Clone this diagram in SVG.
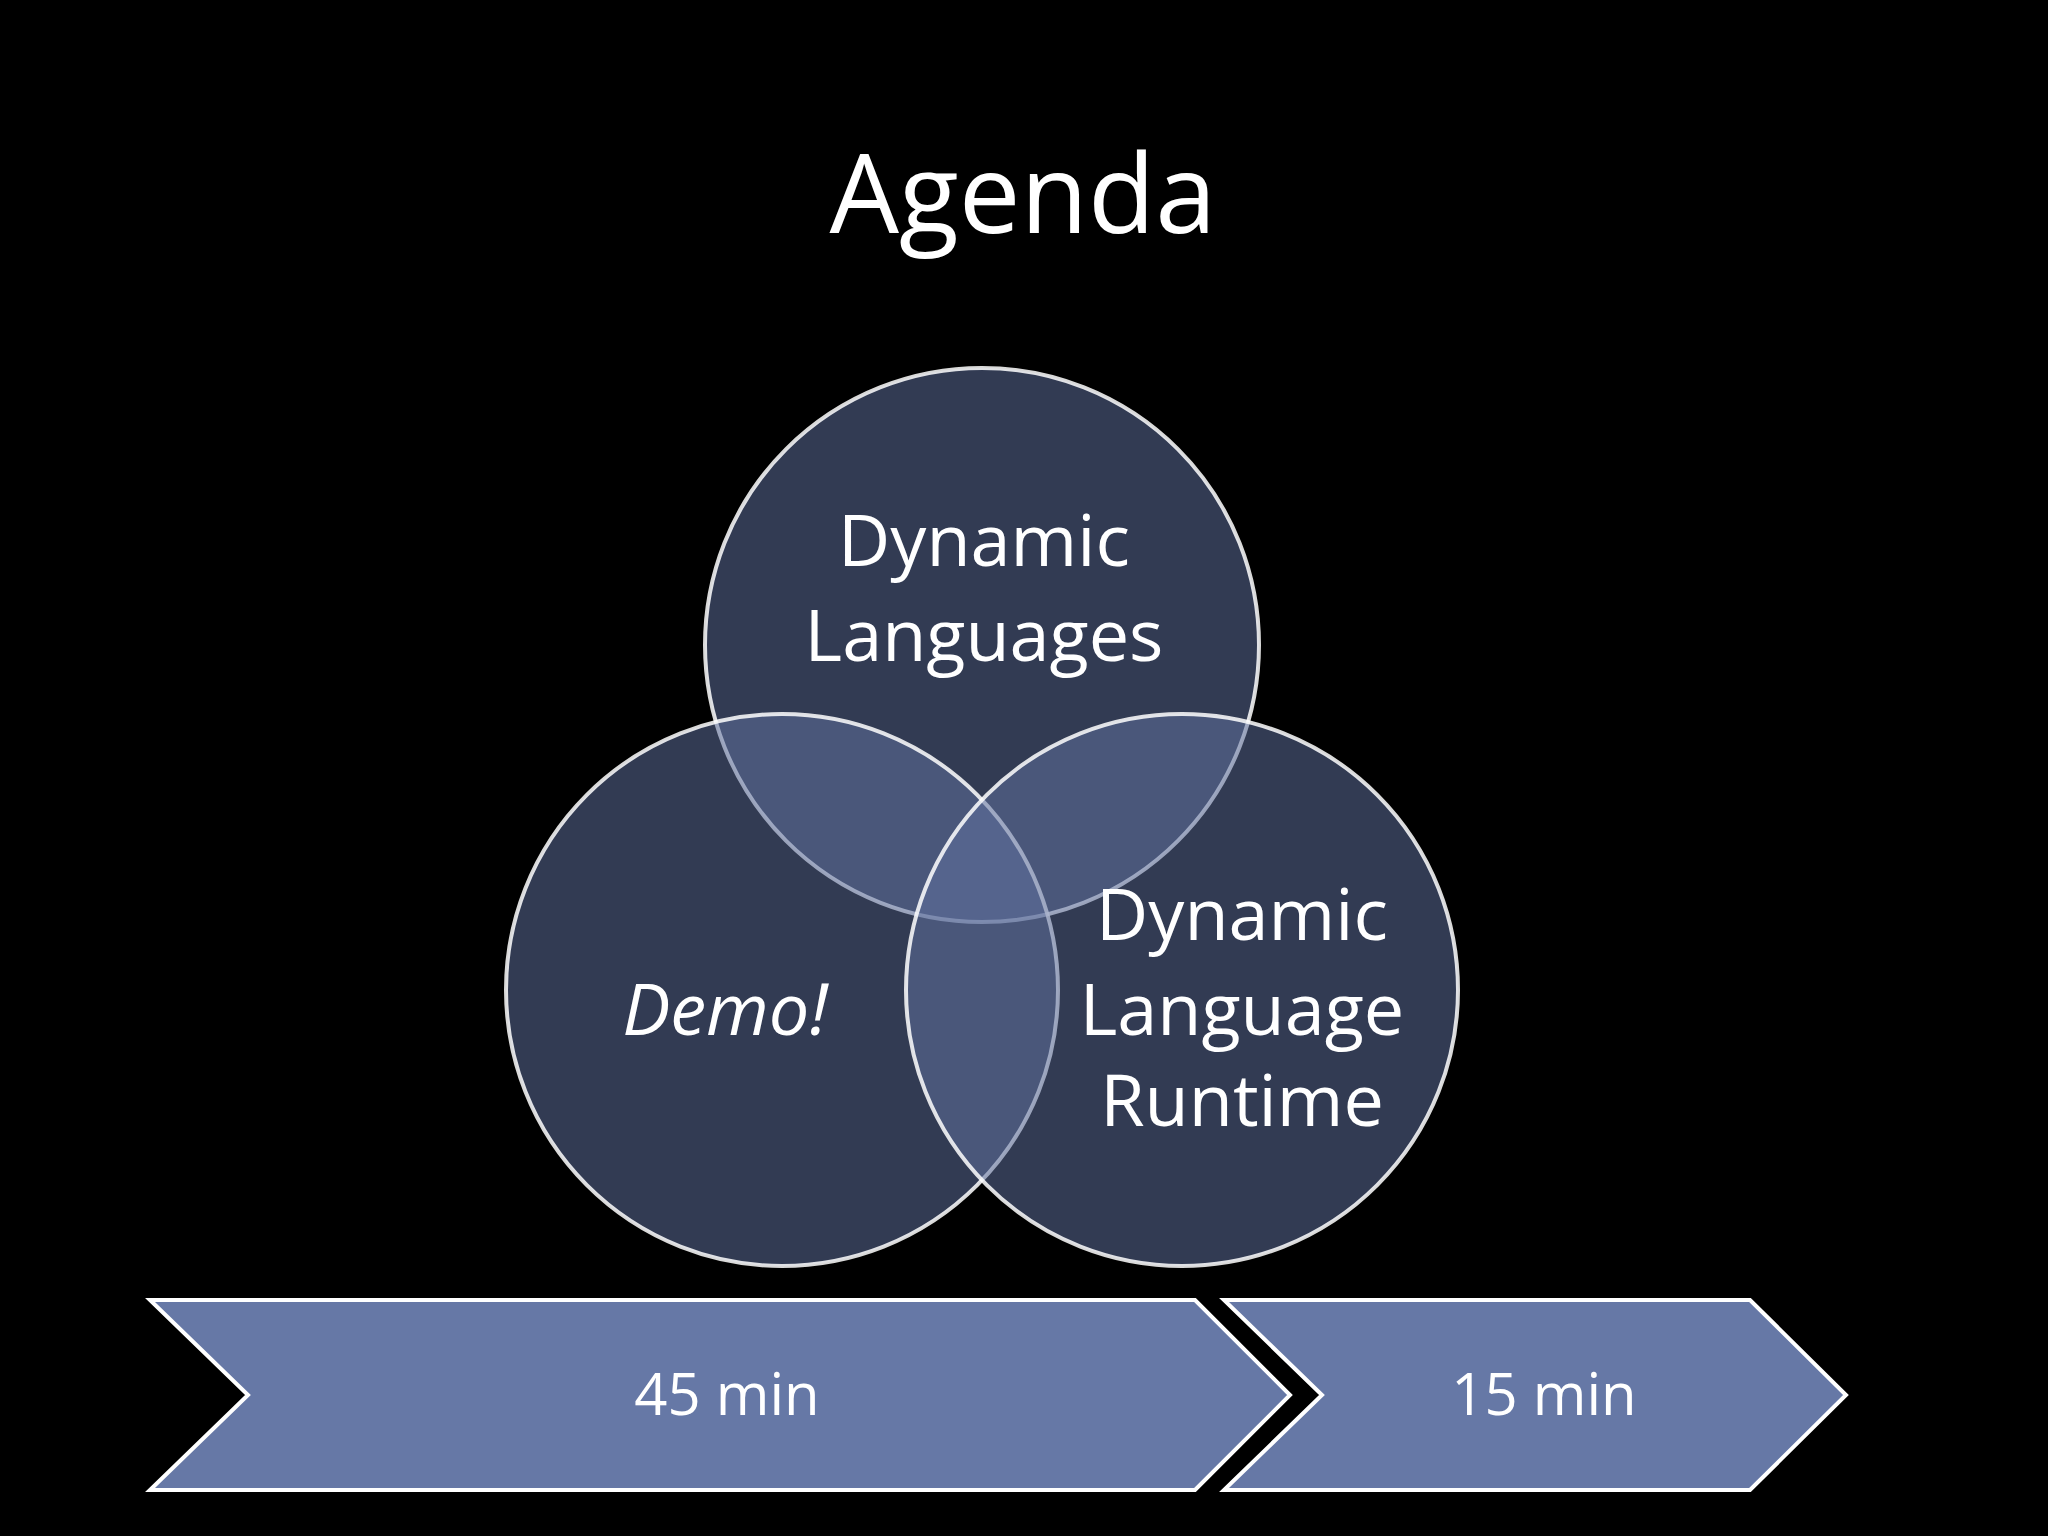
<svg xmlns="http://www.w3.org/2000/svg" width="2048" height="1536" viewBox="0 0 2048 1536">
<style>
text{font-family:"Open Sans","Liberation Sans",sans-serif;fill:#fff;text-anchor:middle}
.c{fill:#5f71a0;fill-opacity:0.52;stroke:#fff;stroke-width:4;stroke-opacity:0.85}
.a{fill:#6678a6;stroke:#fff;stroke-width:4}
.t{font-size:72px}
.m{font-size:58px}
</style>
<rect width="2048" height="1536" fill="#000"/>
<text x="1023" y="233" font-size="110">Agenda</text>
<g id="top"><circle class="c" cx="982" cy="645" r="277"/></g>
<g id="left"><circle class="c" cx="782" cy="990" r="276"/></g>
<g id="right"><circle class="c" cx="1182" cy="990" r="276"/></g>
<g id="labels">
<text class="t" x="984" y="566">Dynamic</text>
<text class="t" x="984" y="661">Languages</text>
<text class="t" x="725" y="1035" font-style="italic">Demo!</text>
<text class="t" x="1242" y="940">Dynamic</text>
<text class="t" x="1242" y="1035">Language</text>
<text class="t" x="1242" y="1126">Runtime</text>
</g>
<g id="a45"><polygon class="a" points="150,1300 1195,1300 1290,1395 1195,1490 150,1490 248,1395"/><text class="m" x="727" y="1415">45 min</text></g>
<g id="a15"><polygon class="a" points="1224,1300 1750,1300 1846,1395 1750,1490 1224,1490 1322,1395"/><text class="m" x="1544" y="1415">15 min</text></g>
</svg>
